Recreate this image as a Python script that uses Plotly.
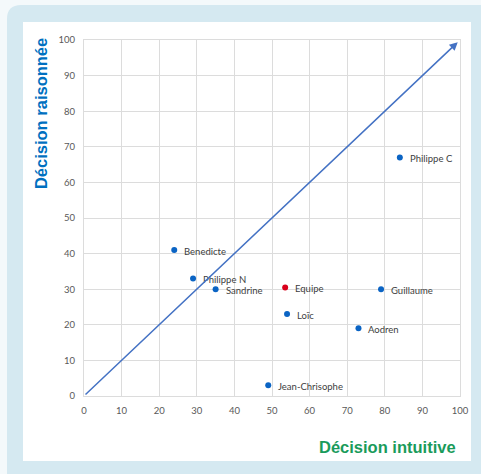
import plotly.graph_objects as go

# Participants: intuitive score (x) vs reasoned score (y)
names = ["Philippe C", "Benedicte", "Philippe N", "Sandrine", "Guillaume",
         "Loïc", "Aodren", "Jean-Chrisophe"]
intuitive = [84, 24, 29, 35, 79, 54, 73, 49]
reasoned = [67, 41, 33, 30, 30, 23, 19, 3]

team_name = ["Equipe"]
team_intuitive = [53.5]
team_reasoned = [30.5]

# Reference diagonal (intuitive = reasoned)
diag_start = [0, 0]
diag_end = [99.4, 99.4]

axis_ticks = list(range(0, 101, 10))

BLUE = "#0b64c4"
RED = "#d9001b"
LABEL = "#404040"
TICK = "#595959"
GRID = "#dcdcdc"
FRAME_BG = "#d5e9f1"

fig = go.Figure()

fig.add_trace(go.Scatter(
    x=intuitive, y=reasoned, mode="markers",
    marker=dict(color=BLUE, size=6), hoverinfo="text", text=names,
    showlegend=False,
))
fig.add_trace(go.Scatter(
    x=team_intuitive, y=team_reasoned, mode="markers",
    marker=dict(color=RED, size=6), hoverinfo="text", text=team_name,
    showlegend=False,
))

# point labels to the right of each marker
for n, xv, yv in zip(names + team_name, intuitive + team_intuitive,
                     reasoned + team_reasoned):
    fig.add_annotation(
        x=xv, y=yv, text=n, showarrow=False, xanchor="left", yanchor="middle",
        xshift=8, yshift=-1, font=dict(family="Lato", size=9.5, color=LABEL),
    )

# diagonal arrow
fig.add_annotation(
    x=diag_end[0], y=diag_end[1], ax=diag_start[0], ay=diag_start[1],
    xref="x", yref="y", axref="x", ayref="y", text="", showarrow=True,
    arrowhead=2, arrowsize=1.1, arrowwidth=1.5, arrowcolor="#4472c4",
)

# axis titles
fig.add_annotation(
    x=-0.114, y=1.01, xref="paper", yref="paper", text="<b>Décision raisonnée</b>",
    textangle=-90, showarrow=False, xanchor="center", yanchor="top",
    font=dict(family="Liberation Sans", size=16.5, color="#0070c0"),
)
fig.add_annotation(
    x=0.995, y=-0.143, xref="paper", yref="paper", text="<b>Décision intuitive</b>",
    showarrow=False, xanchor="right", yanchor="middle",
    font=dict(family="Liberation Sans", size=16.5, color="#1a9b5b"),
)

W, H = 481, 474
L, R, T, B = 84, 21, 40, 78
pw, ph = W - L - R, H - T - B


def px_to_paper(px, py):
    return (px - L) / pw, (H - B - py) / ph


# light blue frame with rounded corner, then white card
x0, y0 = px_to_paper(7, 5)
x1, y1 = px_to_paper(490, 490)
rx, ry = 14 / pw, 14 / ph
frame_path = (f"M {x0 + rx},{y0} L {x1},{y0} L {x1},{y1} L {x0},{y1} "
              f"L {x0},{y0 - ry} Q {x0},{y0} {x0 + rx},{y0} Z")
fig.add_shape(type="path", path=frame_path, xref="paper", yref="paper",
              fillcolor=FRAME_BG, line=dict(width=0), layer="below")
cx0, cy0 = px_to_paper(23, 22)
cx1, cy1 = px_to_paper(471, 461)
fig.add_shape(type="rect", x0=cx0, y0=cy1, x1=cx1, y1=cy0,
              xref="paper", yref="paper", fillcolor="white",
              line=dict(width=0), layer="below")

axis_common = dict(
    range=[0, 100], tickvals=axis_ticks, showgrid=True, gridcolor=GRID,
    gridwidth=1, zeroline=False, showline=True, linecolor=GRID, mirror=True,
    tickfont=dict(family="Lato", size=9.5, color=TICK), ticks="",
    fixedrange=True,
)

fig.update_layout(
    width=W, height=H,
    margin=dict(l=L, r=R, t=T, b=B),
    paper_bgcolor="#f4f9fb", plot_bgcolor="white",
    xaxis=dict(**axis_common, ticklabelstandoff=6),
    yaxis=dict(**axis_common, ticklabelstandoff=6),
)

fig.write_html("out.html")
